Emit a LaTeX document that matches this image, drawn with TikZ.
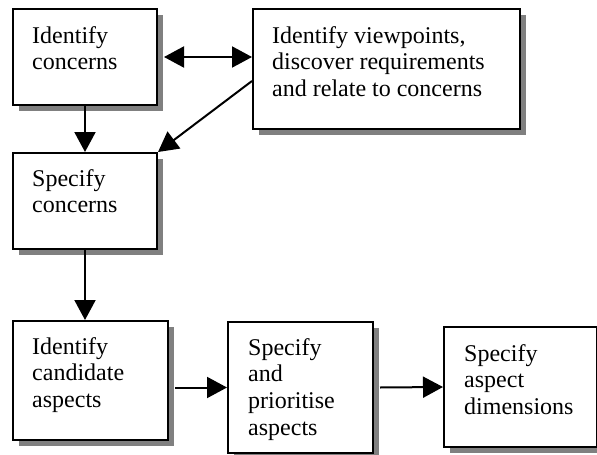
\documentclass[tikz,border=0pt]{standalone}
\usepackage{fontspec}
\setmainfont{Liberation Serif}
\usetikzlibrary{arrows.meta,shadows}

\begin{document}
\begin{tikzpicture}[x=1pt, y=-1pt,
font=\fontsize{24}{26.7}\selectfont,
stage/.style={draw, line width=2pt, fill=white, anchor=north west, inner sep=0pt,
  drop shadow={shadow xshift=6pt, shadow yshift=-6pt, fill=black!50, opacity=1}},
words/.style={anchor=north west, align=left, inner sep=0pt},
flow/.style={-{Triangle[length=20pt,width=21pt]}, line width=2pt},
both/.style={{Triangle[length=20pt,width=21pt]}-{Triangle[length=20pt,width=21pt]}, line width=2pt}]
    \useasboundingbox (0,0) rectangle (597,455);

    % Boxes
    \node[stage, minimum width=144pt, minimum height=96pt] (concerns) at (12,8) {};
    \node[stage, minimum width=267pt, minimum height=120pt] (viewpoints) at (252,8) {};
    \node[stage, minimum width=144pt, minimum height=96pt] (specify) at (12,152) {};
    \node[stage, minimum width=155pt, minimum height=119pt] (candidates) at (12,320) {};
    \node[stage, minimum width=145pt, minimum height=131pt] (prioritise) at (227,321) {};
    \node[stage, minimum width=153pt, minimum height=120pt] (dimensions) at (443,326) {};

    % Texts
    \node[words] (concernsT) at ([shift={(20pt,-18pt)}]concerns.north west) {Identify\\concerns};
    \node[words] (viewpointsT) at ([shift={(20pt,-18pt)}]viewpoints.north west) {Identify viewpoints,\\discover requirements\\and relate to concerns};
    \node[words] (specifyT) at ([shift={(20pt,-17pt)}]specify.north west) {Specify\\concerns};
    \node[words] (candidatesT) at ([shift={(20pt,-17pt)}]candidates.north west) {Identify\\candidate\\aspects};
    \node[words] (prioritiseT) at ([shift={(21pt,-17pt)}]prioritise.north west) {Specify\\and\\prioritise\\aspects};
    \node[words] (dimensionsT) at ([shift={(21pt,-18pt)}]dimensions.north west) {Specify\\aspect\\dimensions};

    % Arrows
    \draw[both] ([xshift=6pt]concerns.east) -- (concerns.east -| viewpoints.west);
    \draw[flow] ([yshift=-12pt]viewpoints.west) -- (specify.north east);
    \draw[flow] (concerns.south) -- (specify.north);
    \draw[flow] (specify.south) -- (specify.south |- candidates.north);
    \draw[flow] ([xshift=6pt]prioritise.west -| candidates.east) -- (prioritise.west);
    \draw[flow] ([xshift=6pt]prioritise.east) -- (dimensions.west);
\end{tikzpicture}
\end{document}
